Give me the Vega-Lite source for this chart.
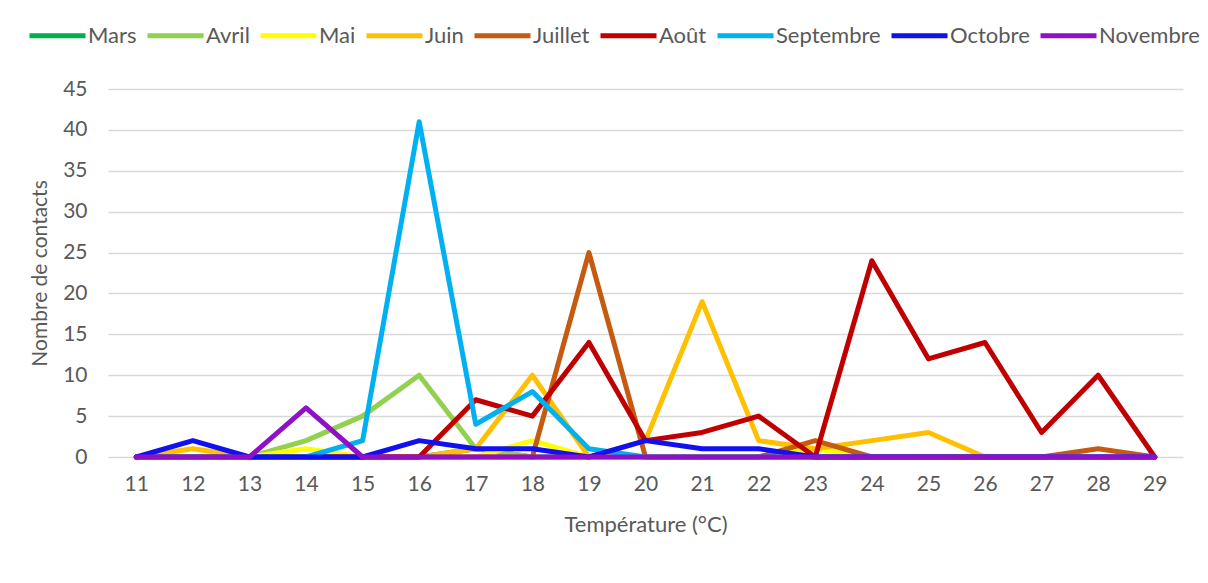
{
  "$schema": "https://vega.github.io/schema/vega-lite/v6.json",
  "width": 1075,
  "height": 368,
  "autosize": {"type": "none"},
  "padding": {"left": 108, "top": 89, "right": 25, "bottom": 126},
  "background": "white",
  "config": {
    "font": "Lato",
    "view": {"stroke": null},
    "axis": {"labelColor": "#595959", "titleColor": "#595959", "labelFont": "Lato", "titleFont": "Lato", "titleFontWeight": "normal"}
  },
  "data": {
    "values": [
      {"t":11,"m":"Mars","n":0},{"t":12,"m":"Mars","n":0},{"t":13,"m":"Mars","n":0},{"t":14,"m":"Mars","n":0},{"t":15,"m":"Mars","n":0},{"t":16,"m":"Mars","n":0},{"t":17,"m":"Mars","n":1},{"t":18,"m":"Mars","n":0},{"t":19,"m":"Mars","n":0},{"t":20,"m":"Mars","n":0},{"t":21,"m":"Mars","n":0},{"t":22,"m":"Mars","n":0},{"t":23,"m":"Mars","n":0},{"t":24,"m":"Mars","n":0},{"t":25,"m":"Mars","n":0},{"t":26,"m":"Mars","n":0},{"t":27,"m":"Mars","n":0},{"t":28,"m":"Mars","n":0},{"t":29,"m":"Mars","n":0},
      {"t":11,"m":"Avril","n":0},{"t":12,"m":"Avril","n":0},{"t":13,"m":"Avril","n":0},{"t":14,"m":"Avril","n":2},{"t":15,"m":"Avril","n":5},{"t":16,"m":"Avril","n":10},{"t":17,"m":"Avril","n":1},{"t":18,"m":"Avril","n":0},{"t":19,"m":"Avril","n":0},{"t":20,"m":"Avril","n":0},{"t":21,"m":"Avril","n":0},{"t":22,"m":"Avril","n":0},{"t":23,"m":"Avril","n":0},{"t":24,"m":"Avril","n":0},{"t":25,"m":"Avril","n":0},{"t":26,"m":"Avril","n":0},{"t":27,"m":"Avril","n":0},{"t":28,"m":"Avril","n":0},{"t":29,"m":"Avril","n":0},
      {"t":11,"m":"Mai","n":0},{"t":12,"m":"Mai","n":0},{"t":13,"m":"Mai","n":0},{"t":14,"m":"Mai","n":1},{"t":15,"m":"Mai","n":0},{"t":16,"m":"Mai","n":0},{"t":17,"m":"Mai","n":0},{"t":18,"m":"Mai","n":2},{"t":19,"m":"Mai","n":0},{"t":20,"m":"Mai","n":0},{"t":21,"m":"Mai","n":0},{"t":22,"m":"Mai","n":0},{"t":23,"m":"Mai","n":1},{"t":24,"m":"Mai","n":0},{"t":25,"m":"Mai","n":0},{"t":26,"m":"Mai","n":0},{"t":27,"m":"Mai","n":0},{"t":28,"m":"Mai","n":0},{"t":29,"m":"Mai","n":0},
      {"t":11,"m":"Juin","n":0},{"t":12,"m":"Juin","n":1},{"t":13,"m":"Juin","n":0},{"t":14,"m":"Juin","n":0},{"t":15,"m":"Juin","n":0},{"t":16,"m":"Juin","n":0},{"t":17,"m":"Juin","n":1},{"t":18,"m":"Juin","n":10},{"t":19,"m":"Juin","n":0},{"t":20,"m":"Juin","n":2},{"t":21,"m":"Juin","n":19},{"t":22,"m":"Juin","n":2},{"t":23,"m":"Juin","n":1},{"t":24,"m":"Juin","n":2},{"t":25,"m":"Juin","n":3},{"t":26,"m":"Juin","n":0},{"t":27,"m":"Juin","n":0},{"t":28,"m":"Juin","n":0},{"t":29,"m":"Juin","n":0},
      {"t":11,"m":"Juillet","n":0},{"t":12,"m":"Juillet","n":0},{"t":13,"m":"Juillet","n":0},{"t":14,"m":"Juillet","n":0},{"t":15,"m":"Juillet","n":0},{"t":16,"m":"Juillet","n":0},{"t":17,"m":"Juillet","n":0},{"t":18,"m":"Juillet","n":0},{"t":19,"m":"Juillet","n":25},{"t":20,"m":"Juillet","n":0},{"t":21,"m":"Juillet","n":0},{"t":22,"m":"Juillet","n":0},{"t":23,"m":"Juillet","n":2},{"t":24,"m":"Juillet","n":0},{"t":25,"m":"Juillet","n":0},{"t":26,"m":"Juillet","n":0},{"t":27,"m":"Juillet","n":0},{"t":28,"m":"Juillet","n":1},{"t":29,"m":"Juillet","n":0},
      {"t":11,"m":"Août","n":0},{"t":12,"m":"Août","n":0},{"t":13,"m":"Août","n":0},{"t":14,"m":"Août","n":0},{"t":15,"m":"Août","n":0},{"t":16,"m":"Août","n":0},{"t":17,"m":"Août","n":7},{"t":18,"m":"Août","n":5},{"t":19,"m":"Août","n":14},{"t":20,"m":"Août","n":2},{"t":21,"m":"Août","n":3},{"t":22,"m":"Août","n":5},{"t":23,"m":"Août","n":0},{"t":24,"m":"Août","n":24},{"t":25,"m":"Août","n":12},{"t":26,"m":"Août","n":14},{"t":27,"m":"Août","n":3},{"t":28,"m":"Août","n":10},{"t":29,"m":"Août","n":0},
      {"t":11,"m":"Septembre","n":0},{"t":12,"m":"Septembre","n":0},{"t":13,"m":"Septembre","n":0},{"t":14,"m":"Septembre","n":0},{"t":15,"m":"Septembre","n":2},{"t":16,"m":"Septembre","n":41},{"t":17,"m":"Septembre","n":4},{"t":18,"m":"Septembre","n":8},{"t":19,"m":"Septembre","n":1},{"t":20,"m":"Septembre","n":0},{"t":21,"m":"Septembre","n":0},{"t":22,"m":"Septembre","n":0},{"t":23,"m":"Septembre","n":0},{"t":24,"m":"Septembre","n":0},{"t":25,"m":"Septembre","n":0},{"t":26,"m":"Septembre","n":0},{"t":27,"m":"Septembre","n":0},{"t":28,"m":"Septembre","n":0},{"t":29,"m":"Septembre","n":0},
      {"t":11,"m":"Octobre","n":0},{"t":12,"m":"Octobre","n":2},{"t":13,"m":"Octobre","n":0},{"t":14,"m":"Octobre","n":0},{"t":15,"m":"Octobre","n":0},{"t":16,"m":"Octobre","n":2},{"t":17,"m":"Octobre","n":1},{"t":18,"m":"Octobre","n":1},{"t":19,"m":"Octobre","n":0},{"t":20,"m":"Octobre","n":2},{"t":21,"m":"Octobre","n":1},{"t":22,"m":"Octobre","n":1},{"t":23,"m":"Octobre","n":0},{"t":24,"m":"Octobre","n":0},{"t":25,"m":"Octobre","n":0},{"t":26,"m":"Octobre","n":0},{"t":27,"m":"Octobre","n":0},{"t":28,"m":"Octobre","n":0},{"t":29,"m":"Octobre","n":0},
      {"t":11,"m":"Novembre","n":0},{"t":12,"m":"Novembre","n":0},{"t":13,"m":"Novembre","n":0},{"t":14,"m":"Novembre","n":6},{"t":15,"m":"Novembre","n":0},{"t":16,"m":"Novembre","n":0},{"t":17,"m":"Novembre","n":0},{"t":18,"m":"Novembre","n":0},{"t":19,"m":"Novembre","n":0},{"t":20,"m":"Novembre","n":0},{"t":21,"m":"Novembre","n":0},{"t":22,"m":"Novembre","n":0},{"t":23,"m":"Novembre","n":0},{"t":24,"m":"Novembre","n":0},{"t":25,"m":"Novembre","n":0},{"t":26,"m":"Novembre","n":0},{"t":27,"m":"Novembre","n":0},{"t":28,"m":"Novembre","n":0},{"t":29,"m":"Novembre","n":0}
    ]
  },
  "mark": {"type": "line", "strokeWidth": 5, "strokeJoin": "round", "strokeCap": "round"},
  "encoding": {
    "x": {
      "field": "t", "type": "quantitative",
      "scale": {"domain": [10.5, 29.5], "nice": false, "zero": false},
      "axis": {
        "values": [11,12,13,14,15,16,17,18,19,20,21,22,23,24,25,26,27,28,29],
        "title": "Température (°C)", "grid": false, "domain": false, "ticks": false,
        "labelFontSize": 21, "labelPadding": 16, "titleFontSize": 22, "titlePadding": 20
      }
    },
    "y": {
      "field": "n", "type": "quantitative",
      "scale": {"domain": [0, 45], "nice": false},
      "axis": {
        "values": [0,5,10,15,20,25,30,35,40,45],
        "title": "Nombre de contacts", "domain": false, "ticks": false,
        "gridColor": "#D9D9D9", "gridWidth": 1.5,
        "labelFontSize": 21, "labelPadding": 21, "titleFontSize": 21, "titlePadding": 12
      }
    },
    "color": {
      "field": "m", "type": "nominal",
      "sort": ["Mars","Avril","Mai","Juin","Juillet","Août","Septembre","Octobre","Novembre"],
      "scale": {
        "domain": ["Mars","Avril","Mai","Juin","Juillet","Août","Septembre","Octobre","Novembre"],
        "range": ["#00B050","#92D050","#FFFF00","#FFC000","#C55A11","#C00000","#00B0F0","#1010F0","#9010C8"]
      },
      "legend": {
        "title": null, "orient": "none", "direction": "horizontal",
        "legendX": -81, "legendY": -84,
        "symbolType": "stroke", "symbolSize": 3136, "symbolStrokeWidth": 5,
        "labelFontSize": 22, "labelColor": "#595959", "labelOffset": 0,
        "columnPadding": 0, "columns": 9, "labelLimit": 300
      }
    }
  }
}
